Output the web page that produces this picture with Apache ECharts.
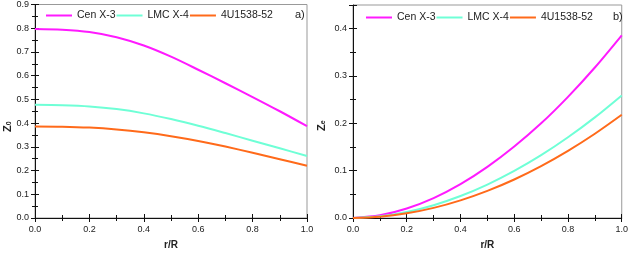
<!DOCTYPE html>
<html><head><meta charset="utf-8">
<script src="https://cdn.jsdelivr.net/npm/echarts@6/dist/echarts.min.js"></script>
<style>html,body{margin:0;padding:0;background:#fff}#c{width:631px;height:255px}</style>
</head><body><div id="c"></div>
<script>
const seriesNames = ['Cen X-3', 'LMC X-4', '4U1538-52'];
const rValues = [0, 0.1, 0.2, 0.3, 0.4, 0.5, 0.6, 0.7, 0.8, 0.9, 1.0];
// panel a) Z0
const cenZ0 = [0.797, 0.794, 0.784, 0.762, 0.727, 0.680, 0.625, 0.568, 0.510, 0.450, 0.387];
const lmcZ0 = [0.477, 0.475, 0.470, 0.459, 0.441, 0.417, 0.389, 0.358, 0.326, 0.294, 0.261];
const u4Z0  = [0.386, 0.385, 0.381, 0.373, 0.361, 0.345, 0.325, 0.301, 0.275, 0.248, 0.220];
// panel b) Ze
const cenZe = [0, 0.0056, 0.020, 0.042, 0.0715, 0.108, 0.151, 0.200, 0.256, 0.318, 0.386];
const lmcZe = [0, 0.0035, 0.0127, 0.0271, 0.0465, 0.0707, 0.0995, 0.1327, 0.1705, 0.2126, 0.259];
const u4Ze  = [0, 0.0026, 0.0098, 0.0214, 0.0373, 0.0573, 0.0814, 0.1096, 0.1418, 0.1779, 0.218];
const xTicks = ['0.0', '0.2', '0.4', '0.6', '0.8', '1.0'];
const colors = ['#ff1aff', '#6fffd6', '#ff6a1a'];

const pairs = (ys) => rValues.map((r, i) => [r, ys[i]]);
const FONT = 'Liberation Sans, Arial, sans-serif';

function xAx(grid, main) {
  return {
    type: 'value', gridIndex: grid, min: 0, max: 1, interval: 0.2, position: 'bottom',
    axisLine: { show: main, onZero: false, lineStyle: { color: '#111', width: 1 } },
    axisTick: { show: true, inside: !main, length: 4, lineStyle: { color: '#111' } },
    minorTick: { show: true, splitNumber: 2, length: 3, lineStyle: { color: '#111' } },
    axisLabel: { show: main, margin: 7, fontSize: 9, fontFamily: FONT, color: '#222',
      formatter: v => v.toFixed(1) },
    splitLine: { show: false }, minorSplitLine: { show: false },
    name: main ? 'r/R' : '', nameLocation: 'middle', nameGap: 22,
    nameTextStyle: { fontSize: 10, fontWeight: 'bold', fontFamily: FONT, color: '#222' }
  };
}
function yAx(grid, main, max) {
  return {
    type: 'value', gridIndex: grid, min: 0, max: max, interval: 0.1, position: 'left',
    axisLine: { show: main, onZero: false, lineStyle: { color: '#111', width: 1 } },
    axisTick: { show: true, inside: !main, length: 4, lineStyle: { color: '#111' } },
    minorTick: { show: true, splitNumber: 2, length: 3, lineStyle: { color: '#111' } },
    axisLabel: { show: main, margin: 6, fontSize: 9, fontFamily: FONT, color: '#222',
      showMaxLabel: max > 0.5, formatter: v => v.toFixed(1) },
    splitLine: { show: false }, minorSplitLine: { show: false }
  };
}
function legend(left, top) {
  return {
    left: left, top: top, itemWidth: 26, itemHeight: 2, itemGap: 1, icon: 'rect',
    data: seriesNames, padding: 0,
    textStyle: { fontSize: 10.5, fontFamily: FONT, color: '#222' }
  };
}
function line(name, data, xi, yi, color) {
  return { type: 'line', name: name, data: data, xAxisIndex: xi, yAxisIndex: yi,
    smooth: 0.3, symbol: 'none', lineStyle: { color: color, width: 2 }, itemStyle: { color: color } };
}

const chart = echarts.init(document.getElementById('c'), null, { renderer: 'canvas' });
chart.setOption({
  animation: false,
  color: colors,
  grid: [
    { left: 35, right: 324, top: 4, bottom: 32, show: true, borderColor: '#999', borderWidth: 1 },
    { left: 353, right: 6, top: 5, bottom: 32, show: true, borderColor: '#999', borderWidth: 1 }
  ],
  xAxis: [xAx(0, true), xAx(0, false), xAx(1, true), xAx(1, false)],
  yAxis: [yAx(0, true, 0.9), yAx(0, false, 0.9), yAx(1, true, 0.45), yAx(1, false, 0.45)],
  legend: [legend(46, 10), legend(366, 12)],
  series: [
    line(seriesNames[0], pairs(cenZ0), 0, 0, colors[0]),
    line(seriesNames[1], pairs(lmcZ0), 0, 0, colors[1]),
    line(seriesNames[2], pairs(u4Z0), 0, 0, colors[2]),
    line(seriesNames[0], pairs(cenZe), 2, 2, colors[0]),
    line(seriesNames[1], pairs(lmcZe), 2, 2, colors[1]),
    line(seriesNames[2], pairs(u4Ze), 2, 2, colors[2])
  ],
  graphic: [
    { type: 'text', left: 295, top: 9, style: { text: 'a)', fontSize: 11, fontFamily: FONT, fill: '#222' } },
    { type: 'text', left: 613, top: 11, style: { text: 'b)', fontSize: 11, fontFamily: FONT, fill: '#222' } },
    { type: 'text', x: 2, y: 132, rotation: Math.PI / 2,
      style: { text: '{z|Z}{s|0}', rich: { z: { fontSize: 11, fontWeight: 'bold', fontFamily: FONT, fill: '#222' },
        s: { fontSize: 7, fontWeight: 'bold', fontFamily: FONT, fill: '#222', verticalAlign: 'bottom' } } } },
    { type: 'text', x: 316, y: 131, rotation: Math.PI / 2,
      style: { text: '{z|Z}{s|e}', rich: { z: { fontSize: 11, fontWeight: 'bold', fontFamily: FONT, fill: '#222' },
        s: { fontSize: 7, fontWeight: 'bold', fontFamily: FONT, fill: '#222', verticalAlign: 'bottom' } } } }
  ]
});
</script></body></html>
